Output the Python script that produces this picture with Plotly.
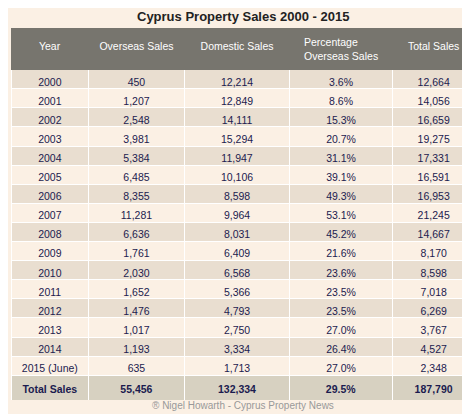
import plotly.graph_objects as go

years = ["2000", "2001", "2002", "2003", "2004", "2005", "2006", "2007", "2008",
         "2009", "2010", "2011", "2012", "2013", "2014", "2015 (June)"]
overseas = [450, 1207, 2548, 3981, 5384, 6485, 8355, 11281, 6636, 1761, 2030,
            1652, 1476, 1017, 1193, 635]
domestic = [12214, 12849, 14111, 15294, 11947, 10106, 8598, 9964, 8031, 6409,
            6568, 5366, 4793, 2750, 3334, 1713]
pct = [3.6, 8.6, 15.3, 20.7, 31.1, 39.1, 49.3, 53.1, 45.2, 21.6, 23.6, 23.5,
       23.5, 27.0, 26.4, 27.0]
total = [12664, 14056, 16659, 19275, 17331, 16591, 16953, 21245, 14667, 8170,
         8598, 7018, 6269, 3767, 4527, 2348]
headers = ["<br>Year", "<br>Overseas Sales", "<br>Domestic Sales",
           "Percentage<br>Overseas Sales", "<br>Total Sales"]
tot_row = ["Total Sales", 55456, 132334, 29.5, 187790]

bg = "#FBF0E4"
cols = [
    years + ["<b>" + tot_row[0] + "</b>"],
    [f"{v:,}" for v in overseas] + [f"<b>{tot_row[1]:,}</b>"],
    [f"{v:,}" for v in domestic] + [f"<b>{tot_row[2]:,}</b>"],
    [f"{v:.1f}%" for v in pct] + [f"<b>{tot_row[3]:.1f}%</b>"],
    [f"{v:,}" for v in total] + [f"<b>{tot_row[4]:,}</b>"],
]
n = len(years)
fills = ["#E9DED0" if i % 2 == 0 else bg for i in range(n)] + ["#D7D1C1"]

fig = go.Figure(go.Table(
    columnwidth=[78, 96, 106, 103, 83],
    header=dict(values=headers, fill_color="#77756E", height=13,
                line=dict(color="#77756E", width=1),
                font=dict(family="Liberation Sans", size=10.5, color="white"),
                align="center"),
    cells=dict(values=cols, fill_color=[fills] * 5, height=19.1,
               line=dict(color="white", width=1),
               font=dict(family="Liberation Sans", size=10.5, color="#1B1B4F"),
               align="center"),
))
fig.update_layout(
    width=470, height=414, paper_bgcolor=bg,
    margin=dict(l=3, r=3, t=20, b=22),
    annotations=[
        dict(text="<b>Cyprus Property Sales 2000 - 2015</b>", x=0.5, y=1,
             xref="paper", yref="paper", yshift=2, yanchor="bottom",
             showarrow=False,
             font=dict(family="Liberation Sans", size=13, color="#222")),
        dict(text="® Nigel Howarth - Cyprus Property News", x=0.5, y=0,
             xref="paper", yref="paper", yshift=2, yanchor="top",
             showarrow=False,
             font=dict(family="Liberation Sans", size=10, color="#999")),
    ],
)
fig.write_html("out.html")
